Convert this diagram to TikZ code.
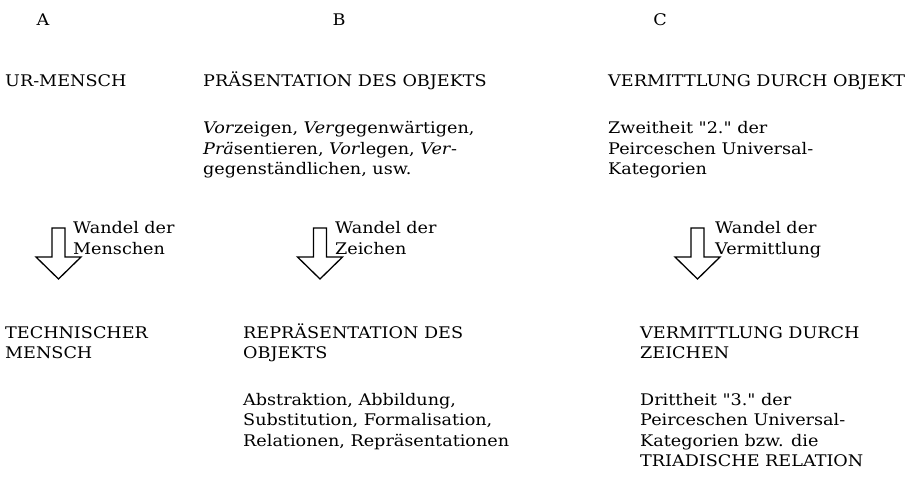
\documentclass[tikz,border=0pt]{standalone}
\usepackage{fontspec}
\setmainfont[FakeStretch=1.1,Ligatures=TeXOff]{DejaVu Serif}
\usetikzlibrary{calc}
\begin{document}
\begin{tikzpicture}[x=1pt,y=-1pt,
  txt/.style={anchor=base west, inner sep=0pt, align=left, font=\fontsize{16}{20.5}\selectfont},
  colhead/.style={anchor=base, inner sep=0pt, font=\fontsize{16}{20.5}\selectfont},
  blockarrow/.style={draw, line width=1.3pt, fill=white, line join=miter}]
\useasboundingbox (0,0) rectangle (910,486);
% column letters
\node[colhead] (colA) at (43,26) {A};
\node[colhead] (colB) at (339,26) {B};
\node[colhead] (colC) at (660,26) {C};
% top row (multi-line nodes are placed at the baseline of their last line)
\node[txt] (urm) at (5,87) {UR-MENSCH};
\node[txt] (praes) at (203,87) {PRÄSENTATION DES OBJEKTS};
\node[txt] (vobj) at (608,87) {VERMITTLUNG DURCH OBJEKT};
\node[txt] (praesx) at (203,175) {\textit{Vor}zeigen, \textit{Ver}gegenwärtigen,\\\textit{Prä}sentieren, \textit{Vor}legen, \textit{Ver}-\\gegenständlichen, usw.};
\node[txt] (zweit) at (608,175) {Zweitheit "2." der\\Peirceschen Universal-\\Kategorien};
% block arrows
\foreach \n/\cx in {arA/58.5, arB/320, arC/697.5}{
  \coordinate (\n) at (\cx,228);
  \draw[blockarrow] ($(\n)+(-6.5,0)$) -- ($(\n)+(6.5,0)$) -- ($(\n)+(6.5,29)$) -- ($(\n)+(22.5,29)$)
     -- ($(\n)+(0,51)$) -- ($(\n)+(-22.5,29)$) -- ($(\n)+(-6.5,29)$) -- cycle;
}
\node[txt] (wA) at (73,254.5) {Wandel der\\Menschen};
\node[txt] (wB) at (335,254.5) {Wandel der\\Zeichen};
\node[txt] (wC) at (715,254.5) {Wandel der\\Vermittlung};
% bottom row
\node[txt] (techm) at (5,358.5) {TECHNISCHER\\MENSCH};
\node[txt] (repr) at (243,358.5) {REPRÄSENTATION DES\\OBJEKTS};
\node[txt] (vzei) at (640,358.5) {VERMITTLUNG DURCH\\ZEICHEN};
\node[txt] (reprx) at (243,446) {Abstraktion, Abbildung,\\Substitution, Formalisation,\\Relationen, Repräsentationen};
\node[txt] (dritt) at (640,466.5) {Drittheit "3." der\\Peirceschen Universal-\\Kategorien bzw. die\\TRIADISCHE RELATION};
\end{tikzpicture}
\end{document}
